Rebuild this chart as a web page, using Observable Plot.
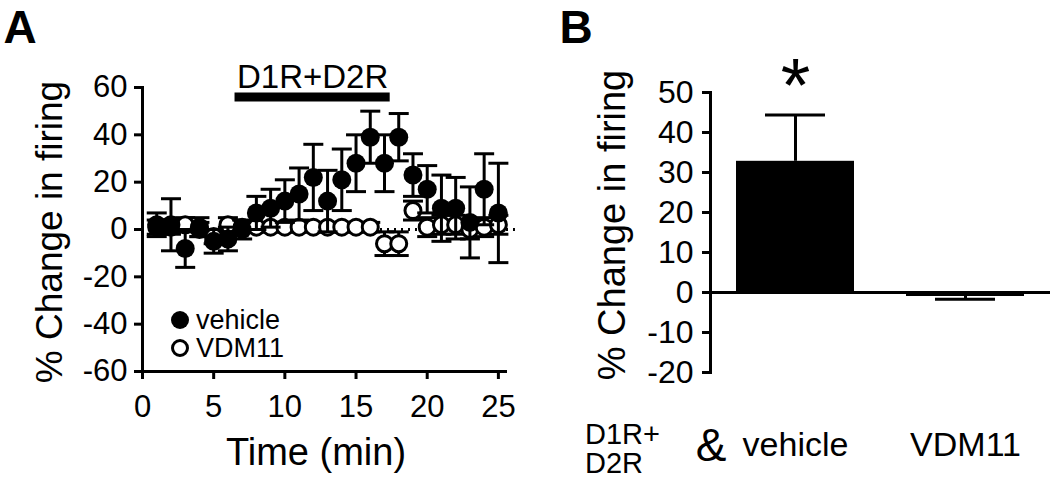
<!DOCTYPE html>
<html><head><meta charset="utf-8">
<script src="https://cdn.jsdelivr.net/npm/d3@7"></script>
<script src="https://cdn.jsdelivr.net/npm/@observablehq/plot@0.6"></script>
<style>
body{margin:0;background:#fff;}
#wrap{position:relative;width:1050px;height:479px;overflow:hidden;font-family:"Liberation Sans",Arial,sans-serif;color:#000;background:#fff;}
#wrap svg{position:absolute;top:0;}
.lbl{position:absolute;white-space:nowrap;line-height:1;}
.c{transform:translate(-50%,-50%);}
.r{transform:translate(-50%,-50%) rotate(-90deg);}
</style></head><body><div id="wrap"></div>
<script>
// ---- Panel A data ----
const time        = [1,2,3,4,5,6,7,8,9,10,11,12,13,14,15,16,17,18,19,20,21,22,23,24,25];
const vehicleMean = [2,2,-8,1,-5,-4,0,7,9,12,15,22,12,21,28,39,28,39,23,17,9,9,3,17,7];
const vehicleSem  = [5,11,8,4,5,5,4,7,8,9,11,14,13,13,12,11,12,10,9,10,14,13,15,15,21];
const vdmMean     = [1,1,2,0,-3,2,1,1,1,1,1,1,1,1,1,1,-6,-6,8,1,2,2,0,1,2];
const vdmSem      = [3,3,3,3,3,3,2,2,2,2,2,2,2,2,2,2,5,5,4,4,4,4,4,4,4];
const xTicksA = [0,5,10,15,20,25];
const yTicksA = [-60,-40,-20,0,20,40,60];
const drugLabel = "D1R+D2R";
const drugStart = 6.5, drugEnd = 17.4, drugLevel = 56;
const seriesNames = ["vehicle","VDM11"];

// ---- Panel B data ----
const groups    = ["vehicle","VDM11"];
const groupMean = [32.8,-1.0];
const groupSem  = [11.6,0.7];
const groupSig  = ["*",""];
const yTicksB = [-20,-10,0,10,20,30,40,50];
const treatmentLines = ["D1R+","D2R"];

const font = '"Liberation Sans", Arial, sans-serif';
const fmt = d => String(d);
const veh = time.map((t,i)=>({t, m:vehicleMean[i], s:vehicleSem[i]}));
const vdm = time.map((t,i)=>({t, m:vdmMean[i], s:vdmSem[i]}));
const cap = {draw(ctx,size){const w=Math.sqrt(size/Math.PI); ctx.moveTo(-w,0); ctx.lineTo(w,0);}};
const errMarks = (data)=>[
  Plot.ruleX(data,{x:"t", y1:d=>d.m-d.s, y2:d=>d.m+d.s, stroke:"#000", strokeWidth:3}),
  Plot.dot(data,{x:"t", y:d=>d.m+d.s, symbol:cap, r:10, stroke:"#000", strokeWidth:3}),
  Plot.dot(data,{x:"t", y:d=>d.m-d.s, symbol:cap, r:10, stroke:"#000", strokeWidth:3})
];

const A = Plot.plot({
  width:540, height:479, marginLeft:142, marginRight:35, marginTop:87, marginBottom:108,
  x:{domain:[0,25.5]}, y:{domain:[-60,60]},
  style:{fontFamily:font, fontSize:"31px", color:"#000", background:"transparent", overflow:"visible"},
  marks:[
    Plot.ruleY([0],{x1:0, x2:26.2, stroke:"#000", strokeWidth:3, strokeDasharray:"2,5"}),
    ...errMarks(vdm),
    Plot.dot(vdm,{x:"t", y:"m", r:8, fill:"#fff", stroke:"#000", strokeWidth:3}),
    ...errMarks(veh),
    Plot.dot(veh,{x:"t", y:"m", r:9.5, fill:"#000"}),
    Plot.ruleY([drugLevel],{x1:drugStart, x2:drugEnd, stroke:"#000", strokeWidth:9}),
    Plot.text([drugLabel],{x:(drugStart+drugEnd)/2, y:drugLevel, text:d=>d, dy:-20, fontSize:33, fill:"#000"}),
    Plot.axisX({ticks:xTicksA, tickFormat:fmt, tickSize:8, tickPadding:15, strokeWidth:3, label:null, fontSize:31}),
    Plot.axisY({ticks:yTicksA, tickFormat:fmt, tickSize:8, tickPadding:7, strokeWidth:3, label:null, fontSize:31}),
    Plot.frame({anchor:"left", strokeWidth:3}),
    Plot.frame({anchor:"bottom", strokeWidth:3})
  ]
});
A.style.left = "0px";

const bars = groups.map((g,i)=>({g, m:groupMean[i], s:groupSem[i], sig:groupSig[i]}));
const B = Plot.plot({
  width:510, height:479, marginLeft:170, marginRight:0, marginTop:92, marginBottom:107,
  x:{domain:groups, padding:0}, y:{domain:[-20,50]},
  style:{fontFamily:font, fontSize:"32px", color:"#000", background:"transparent", overflow:"visible"},
  marks:[
    Plot.barY(bars,{x:"g", y:"m", fill:"#000", insetLeft:26, insetRight:26}),
    Plot.ruleX(bars,{x:"g", y1:"m", y2:d=>d.m+Math.sign(d.m)*d.s, stroke:"#000", strokeWidth:3}),
    Plot.tickY(bars,{x:"g", y:d=>d.m+Math.sign(d.m)*d.s, stroke:"#000", strokeWidth:3, insetLeft:55, insetRight:55}),
    Plot.ruleY([0],{stroke:"#000", strokeWidth:3}),
    Plot.text(bars,{x:"g", y:d=>d.m+d.s, text:"sig", dy:-28, lineAnchor:"middle", fontSize:76, fill:"#000"}),
    Plot.axisY({ticks:yTicksB, tickFormat:fmt, tickSize:8, tickPadding:9, strokeWidth:3, label:null, fontSize:32}),
    Plot.axisX({tickSize:0, tickPadding:59, label:null, fontSize:34}),
    Plot.frame({anchor:"left", strokeWidth:3})
  ]
});
B.style.left = "540px";

const wrap = document.getElementById("wrap");
wrap.appendChild(A); wrap.appendChild(B);

function lbl(html, x, y, cls, fs, extra){
  const d = document.createElement("div");
  d.className = "lbl " + cls; d.innerHTML = html;
  d.style.left = x+"px"; d.style.top = y+"px"; d.style.fontSize = fs+"px";
  if (extra) Object.assign(d.style, extra);
  wrap.appendChild(d);
}
lbl("A", 20, 27, "c", 46, {fontWeight:"bold"});
lbl("B", 576, 27, "c", 46, {fontWeight:"bold"});
lbl("% Change in firing", 49, 232, "r", 37);
lbl("Time (min)", 316, 452, "c", 38);
lbl("% Change in firing", 612, 225, "r", 38);
lbl(treatmentLines[0], 585, 420, "", 29);
lbl(treatmentLines[1], 585, 449, "", 29);
lbl("&amp;", 711, 445, "c", 46);

// legend
const leg = document.createElement("div");
leg.className = "lbl"; leg.style.left = "168px"; leg.style.top = "306px";
leg.innerHTML = `<svg width="160" height="60" style="position:static;overflow:visible">
 <circle cx="12" cy="14" r="9" fill="#000"/>
 <circle cx="12" cy="42" r="7.5" fill="#fff" stroke="#000" stroke-width="3"/>
 <text x="28" y="14" dy="0.35em" font-size="27" font-family='Liberation Sans, Arial, sans-serif'>${seriesNames[0]}</text>
 <text x="28" y="42" dy="0.35em" font-size="27" font-family='Liberation Sans, Arial, sans-serif'>${seriesNames[1]}</text>
</svg>`;
wrap.appendChild(leg);
</script></body></html>
